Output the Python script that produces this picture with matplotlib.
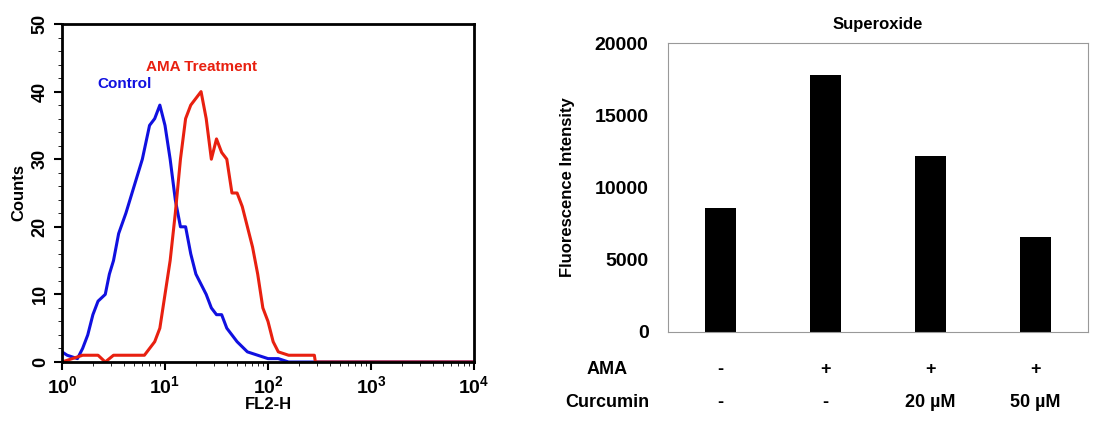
import matplotlib
matplotlib.use("Agg")
import matplotlib.pyplot as plt
import numpy as np

# histogram (log10 FL2-H, counts)
ctrl_x = [0, 0.05, 0.15, 0.2, 0.25, 0.3, 0.35, 0.42, 0.46, 0.5, 0.55, 0.62, 0.7, 0.78, 0.85, 0.9, 0.95,
          1.0, 1.05, 1.1, 1.15, 1.2, 1.25, 1.3, 1.4, 1.45, 1.5, 1.55, 1.6, 1.7, 1.8, 1.9, 2.0, 2.1, 2.2, 4.0]
ctrl_y = [1.5, 1, 0.5, 2, 4, 7, 9, 10, 13, 15, 19, 22, 26, 30, 35, 36, 38,
          35, 30, 24, 20, 20, 16, 13, 10, 8, 7, 7, 5, 3, 1.5, 1, 0.5, 0.5, 0, 0]
ama_x = [0, 0.1, 0.2, 0.35, 0.42, 0.5, 0.6, 0.8, 0.85, 0.9, 0.95, 1.0, 1.05, 1.1, 1.15, 1.2, 1.25, 1.3, 1.35,
         1.4, 1.45, 1.5, 1.55, 1.6, 1.65, 1.7, 1.75, 1.8, 1.85, 1.9, 1.95, 2.0, 2.05, 2.1, 2.2, 2.45, 2.46, 4.0]
ama_y = [0, 0.5, 1, 1, 0, 1, 1, 1, 2, 3, 5, 10, 15, 22, 30, 36, 38, 39, 40,
         36, 30, 33, 31, 30, 25, 25, 23, 20, 17, 13, 8, 6, 3, 1.5, 1, 1, 0, 0]

# bar chart
bar_vals = [8600, 17800, 12200, 6600]
ama_row = ["-", "+", "+", "+"]
curc_row = ["-", "-", "20 µM", "50 µM"]

plt.rcParams["font.family"] = ["Liberation Sans", "DejaVu Sans"]
fig = plt.figure(figsize=(10.94, 4.22), dpi=100)

ax = fig.add_axes([62 / 1094, 60 / 422, 412 / 1094, 338 / 422])
ax.plot(10 ** np.array(ctrl_x), ctrl_y, color="#1010e0", lw=2.2)
ax.plot(10 ** np.array(ama_x), ama_y, color="#e82010", lw=2.2)
ax.set_xscale("log")
ax.set_xlim(1, 1e4)
ax.set_ylim(0, 50)
ax.set_yticks(range(0, 51, 10))
ax.set_yticks(range(0, 51, 2), minor=True)
ax.tick_params(axis="y", labelrotation=90, labelsize=13, width=1.5, length=6)
ax.tick_params(axis="x", labelsize=14, width=1.5, length=6)
ax.tick_params(which="minor", length=3)
for lab in ax.get_yticklabels() + ax.get_xticklabels():
    lab.set_fontweight("bold")
for lab in ax.get_yticklabels():
    lab.set_va("center")
for s in ax.spines.values():
    s.set_linewidth(2)
ax.set_xlabel("FL2-H", fontsize=12, fontweight="bold", labelpad=0)
ax.set_ylabel("Counts", fontsize=12, fontweight="bold")
ax.text(2.2, 40.5, "Control", color="#1010e0", fontsize=11, fontweight="bold")
ax.text(6.5, 43, "AMA Treatment", color="#e82010", fontsize=11, fontweight="bold")

bx = fig.add_axes([668 / 1094, 90 / 422, 420 / 1094, 289 / 422])
xs = np.arange(len(bar_vals))
bx.bar(xs, bar_vals, width=0.3, color="black")
bx.set_xlim(-0.5, 3.5)
bx.set_ylim(0, 20000)
bx.set_yticks(range(0, 20001, 5000))
bx.tick_params(axis="y", length=0, labelsize=14, pad=14)
bx.set_xticks([])
for lab in bx.get_yticklabels():
    lab.set_fontweight("bold")
for s in bx.spines.values():
    s.set_color("#999999")
bx.set_title("Superoxide", fontsize=12, fontweight="bold", pad=10)
bx.set_ylabel("Fluorescence Intensity", fontsize=12, fontweight="bold", labelpad=14)
for i in xs:
    bx.text(i, -0.13, ama_row[i], transform=bx.get_xaxis_transform(), ha="center", va="center", fontsize=13, fontweight="bold")
    bx.text(i, -0.245, curc_row[i], transform=bx.get_xaxis_transform(), ha="center", va="center", fontsize=13, fontweight="bold")
bx.text(-0.145, -0.13, "AMA", transform=bx.transAxes, ha="center", va="center", fontsize=13, fontweight="bold")
bx.text(-0.145, -0.245, "Curcumin", transform=bx.transAxes, ha="center", va="center", fontsize=13, fontweight="bold")

fig.savefig("out.png", dpi=100)
